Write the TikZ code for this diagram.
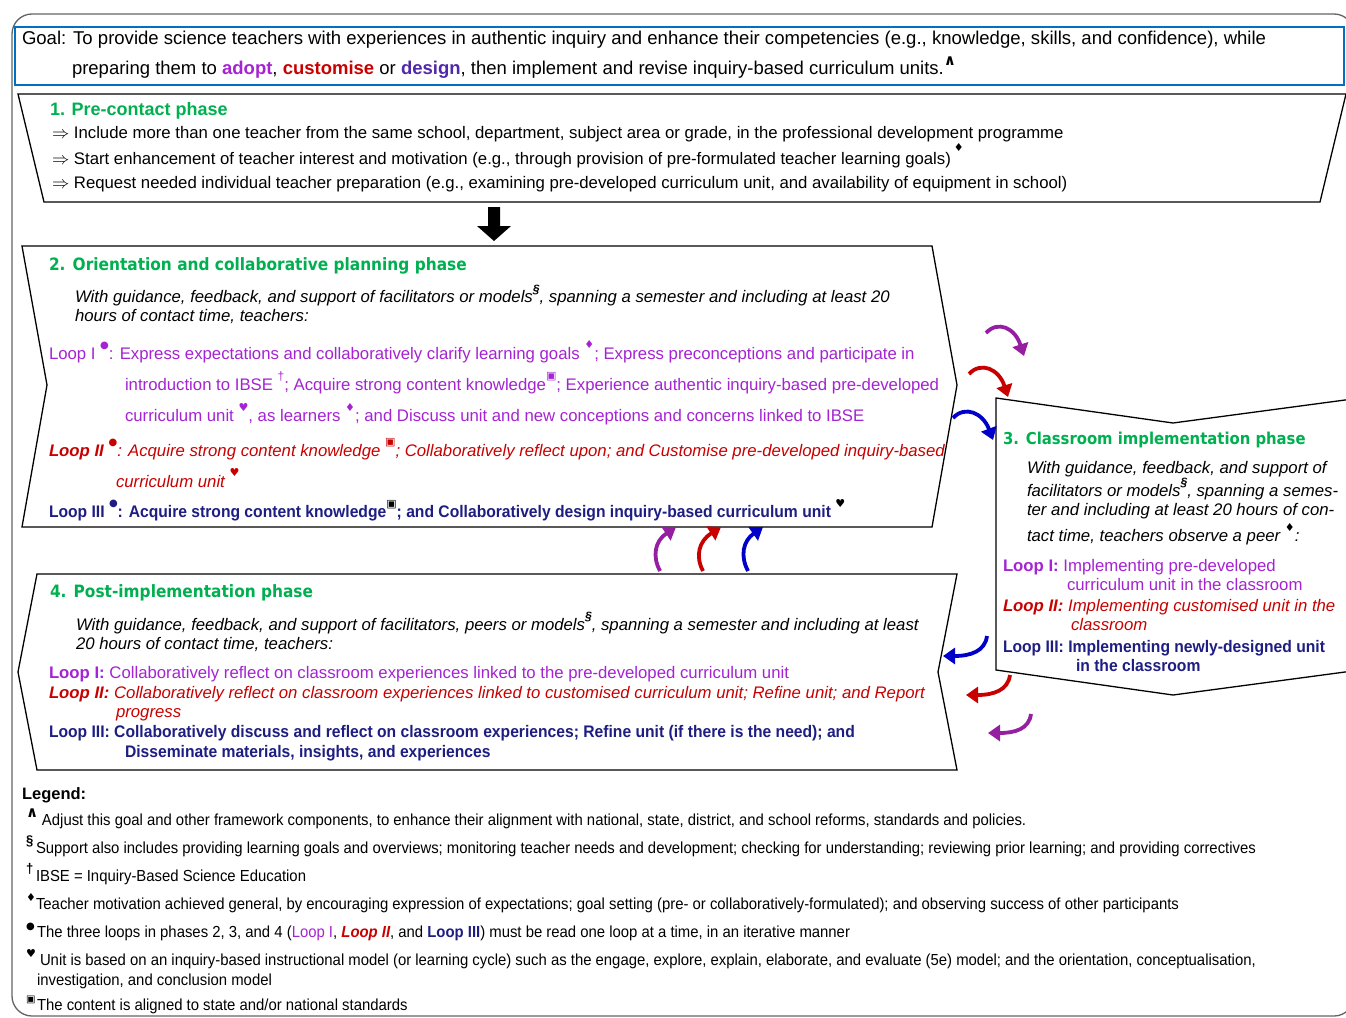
\documentclass[tikz,border=0pt]{standalone}
\usepackage{fontspec}
\setmainfont{Liberation Sans}
\newfontfamily\symf{DejaVu Sans}
\newfontfamily\ttlf{DejaVu Sans}[FakeStretch=0.905]
\newfontfamily\boldf{Liberation Sans}[FakeStretch=0.935]
\newfontfamily\lgf{Liberation Sans}[FakeStretch=0.93]
\usetikzlibrary{arrows.meta}
\definecolor{ttlgreen}{RGB}{0,176,80}
\definecolor{lpurple}{RGB}{165,35,210}
\definecolor{lred}{RGB}{200,0,0}
\definecolor{lblue}{RGB}{30,30,130}
\definecolor{ddesign}{RGB}{80,40,170}
\definecolor{goalblue}{RGB}{0,112,192}
\definecolor{apurple}{RGB}{150,30,160}
\definecolor{ared}{RGB}{200,0,0}
\definecolor{ablue}{RGB}{0,0,200}
\definecolor{framegray}{RGB}{100,100,100}
\newcommand\fs[1]{\fontsize{#1}{#1}\selectfont}
\newcommand\sy[1]{\raisebox{0.55em}{\fs{12}\bfseries #1}}
\newcommand\sd[1]{\raisebox{0.6em}{\fs{11}\symf #1}}
\newcommand\sdot{\raisebox{0.65em}{\fs{10}\symf ●}}
\newcommand\caret{{\symf\bfseries ∧}}
\newcommand\lsym[2]{\makebox[#1][l]{\hspace{4pt}\raisebox{8pt}{#2}}}
\tikzset{
  txt/.style={anchor=base west, inner sep=0pt, outer sep=0pt},
  phasebox/.style={draw=black, line width=1.3pt, fill=white, line join=miter},
  loopar/.style={line width=3.8pt, -{Triangle[length=12pt,width=16pt]}},
  ttl/.style={txt, text=ttlgreen, font=\fs{17}\ttlf\bfseries},
  body/.style={txt, font=\fs{16.75}},
  ital/.style={txt, font=\fs{16.75}\itshape},
  lthree/.style={txt, text=lblue, font=\fs{16.75}\boldf\bfseries},
  lg/.style={txt, font=\fs{16}\lgf},
}
\begin{document}
\begin{tikzpicture}[x=1pt,y=-1pt]
\useasboundingbox (0,0) rectangle (1346,1017);
% outer frame
\draw[framegray, line width=1.3pt, rounded corners=20pt] (12,14) rectangle (1354,1016);
% goal box
\draw[goalblue, line width=2.6pt] (15,27) rectangle (1344,85);
\node[txt, font=\fs{18.55}] (g1) at (22,44) {Goal: To provide science teachers with experiences in authentic inquiry and enhance their competencies (e.g., knowledge, skills, and confidence), while};
\node[txt, font=\fs{18.5}] (g2) at (72,74) {preparing them to \textcolor{lpurple}{\bfseries adopt}, \textcolor{lred}{\bfseries customise} or \textcolor{ddesign}{\bfseries design}, then implement and revise inquiry-based curriculum units.\raisebox{0.45em}{\fs{15}\caret}};

% phase 1
\draw[phasebox] (18,94) -- (1346,94) -- (1320,202) -- (44,202) -- cycle;
\node[txt, text=ttlgreen, font=\fs{18}\bfseries] (p1t) at (50,115) {1. Pre-contact phase};
\node[body] (p1a) at (52,138.5) {$\Rightarrow$ Include more than one teacher from the same school, department, subject area or grade, in the professional development programme};
\node[body] (p1b) at (52,164.5) {$\Rightarrow$ Start enhancement of teacher interest and motivation (e.g., through provision of pre-formulated teacher learning goals)\,\raisebox{0.75em}{\fs{11}\symf ♦}};
\node[body] (p1c) at (52,188.5) {$\Rightarrow$ Request needed individual teacher preparation (e.g., examining pre-developed curriculum unit, and availability of equipment in school)};

% down arrow
\fill[black] (488,207) -- (500,207) -- (500,226) -- (511,226) -- (494,241) -- (477,226) -- (488,226) -- cycle;
\coordinate (dn) at (494,241);

% phase 2
\draw[phasebox] (22,246) -- (932,246) -- (957,385) -- (932,527) -- (22,527) -- (47,385) -- cycle;
\node[ttl] (p2t) at (49,270) {2. Orientation and collaborative planning phase};
\node[ital] (p2i1) at (75,302.5) {With guidance, feedback, and support of facilitators or models\sy{§}, spanning a semester and including at least 20};
\node[ital] (p2i2) at (75,321.5) {hours of contact time, teachers:};
\node[body, text=lpurple] (p2l1a) at (49,359) {Loop I \sdot: Express expectations and collaboratively clarify learning goals \sd{♦}; Express preconceptions and participate in};
\node[body, text=lpurple] (p2l1b) at (125,390) {introduction to IBSE \sy{\mdseries †}; Acquire strong content knowledge\sd{▣}; Experience authentic inquiry-based pre-developed};
\node[body, text=lpurple] (p2l1c) at (125,421.5) {curriculum unit \sd{♥}, as learners \sd{♦}; and Discuss unit and new conceptions and concerns linked to IBSE};
\node[ital, text=lred] (p2l2a) at (49,456) {\bfseries Loop II \sdot\mdseries: Acquire strong content knowledge \sd{▣}; Collaboratively reflect upon; and Customise pre-developed inquiry-based};
\node[ital, text=lred] (p2l2b) at (116,487) {curriculum unit \sd{♥}};
\node[lthree] (p2l3) at (49,517.5) {Loop III \sdot: Acquire strong content knowledge\sd{\color{black}▣}; and Collaboratively design inquiry-based curriculum unit \sd{\color{black}♥}};

% phase 3
\draw[phasebox] (996,398) -- (1173,423) -- (1360,398) -- (1360,670) -- (1173,695) -- (996,670) -- cycle;
\node[ttl, font=\fs{16.4}\ttlf\bfseries] (p3t) at (1003,444) {3. Classroom implementation phase};
\node[ital] (p3i1) at (1027,473) {With guidance, feedback, and support of};
\node[ital] (p3i2) at (1027,496) {facilitators or models\sy{§}, spanning a semes-};
\node[ital] (p3i3) at (1027,515) {ter and including at least 20 hours of con-};
\node[ital] (p3i4) at (1027,541.5) {tact time, teachers observe a peer \sd{♦}:};
\node[body, text=lpurple] (p3l1a) at (1003,571.5) {\bfseries Loop I:\mdseries\ Implementing pre-developed};
\node[body, text=lpurple] (p3l1b) at (1067,590.5) {curriculum unit in the classroom};
\node[ital, text=lred] (p3l2a) at (1003,611.5) {\bfseries Loop II:\mdseries\ Implementing customised unit in the};
\node[ital, text=lred] (p3l2b) at (1071,630.5) {classroom};
\node[lthree] (p3l3a) at (1003,652) {Loop III: Implementing newly-designed unit};
\node[lthree] (p3l3b) at (1076,671.5) {in the classroom};

% phase 4
\draw[phasebox] (37,574) -- (957,574) -- (938,672) -- (957,770) -- (37,770) -- (18,672) -- cycle;
\node[ttl] (p4t) at (50,597) {4. Post-implementation phase};
\node[ital] (p4i1) at (76,630) {With guidance, feedback, and support of facilitators, peers or models\sy{§}, spanning a semester and including at least};
\node[ital] (p4i2) at (76,649.5) {20 hours of contact time, teachers:};
\node[body, text=lpurple] (p4l1) at (49,678.5) {\bfseries Loop I:\mdseries\ Collaboratively reflect on classroom experiences linked to the pre-developed curriculum unit};
\node[ital, text=lred] (p4l2a) at (49,698.5) {\bfseries Loop II:\mdseries\ Collaboratively reflect on classroom experiences linked to customised curriculum unit; Refine unit; and Report};
\node[ital, text=lred] (p4l2b) at (116,717.5) {progress};
\node[lthree] (p4l3a) at (49,737.5) {Loop III: Collaboratively discuss and reflect on classroom experiences; Refine unit (if there is the need); and};
\node[lthree] (p4l3b) at (125,757.5) {Disseminate materials, insights, and experiences};

% loop arrows 2 -> 3
\coordinate (a1s) at (986,333); \coordinate (a1e) at (1024,356);
\coordinate (a2s) at (969,374); \coordinate (a2e) at (1008,397);
\coordinate (a3s) at (953,418); \coordinate (a3e) at (993,440);
\draw[loopar, apurple] (a1s) .. controls (998,320) and (1015,328) .. (a1e);
\draw[loopar, ared] (a2s) .. controls (981,361) and (999,369) .. (a2e);
\draw[loopar, ablue] (a3s) .. controls (965,405) and (983,413) .. (a3e);
% loop arrows 3 -> 4
\coordinate (b1s) at (987,636); \coordinate (b1e) at (943,656);
\coordinate (b2s) at (1010,675); \coordinate (b2e) at (966,695);
\coordinate (b3s) at (1031,714); \coordinate (b3e) at (988,733);
\draw[loopar, ablue] (b1s) .. controls (985,651) and (971,656) .. (b1e);
\draw[loopar, ared] (b2s) .. controls (1008,690) and (994,695) .. (b2e);
\draw[loopar, apurple] (b3s) .. controls (1029,729) and (1015,733) .. (b3e);
% loop arrows 4 -> 2
\coordinate (c1s) at (660,571); \coordinate (c1e) at (676,527);
\coordinate (c2s) at (703,571); \coordinate (c2e) at (721,527);
\coordinate (c3s) at (748,571); \coordinate (c3e) at (763,527);
\draw[loopar, apurple] (c1s) .. controls (652,556) and (655,541) .. (c1e);
\draw[loopar, ared] (c2s) .. controls (695,556) and (699,541) .. (c2e);
\draw[loopar, ablue] (c3s) .. controls (740,556) and (743,541) .. (c3e);

% legend
\node[txt, font=\fs{16.5}\bfseries] (lgt) at (22,799) {Legend:};
\node[lg] (lg1) at (22,825) {\lsym{20pt}{\fs{15}\caret}Adjust this goal and other framework components, to enhance their alignment with national, state, district, and school reforms, standards and policies.};
\node[lg] (lg2) at (22,853) {\lsym{14pt}{\fs{14}\bfseries §}Support also includes providing learning goals and overviews; monitoring teacher needs and development; checking for understanding; reviewing prior learning; and providing correctives};
\node[lg] (lg3) at (22,881) {\lsym{14pt}{\fs{14}\bfseries †}IBSE = Inquiry-Based Science Education};
\node[lg] (lg4) at (22,909) {\lsym{14pt}{\fs{11}\symf ♦}Teacher motivation achieved general, by encouraging expression of expectations; goal setting (pre- or collaboratively-formulated); and observing success of other participants};
\node[lg] (lg5) at (22,937) {\lsym{15pt}{\fs{10}\symf ●}The three loops in phases 2, 3, and 4 (\textcolor{lpurple}{Loop I}, \textcolor{lred}{\bfseries\itshape Loop II}, and \textcolor{lblue}{\bfseries Loop III}) must be read one loop at a time, in an iterative manner};
\node[lg] (lg6) at (22,965) {\lsym{18pt}{\fs{11}\symf ♥}Unit is based on an inquiry-based instructional model (or learning cycle) such as the engage, explore, explain, elaborate, and evaluate (5e) model; and the orientation, conceptualisation,};
\node[lg] (lg7) at (37,985) {investigation, and conclusion model};
\node[lg] (lg8) at (22,1010) {\lsym{15pt}{\fs{10}\symf ▣}The content is aligned to state and/or national standards};
\end{tikzpicture}
\end{document}
